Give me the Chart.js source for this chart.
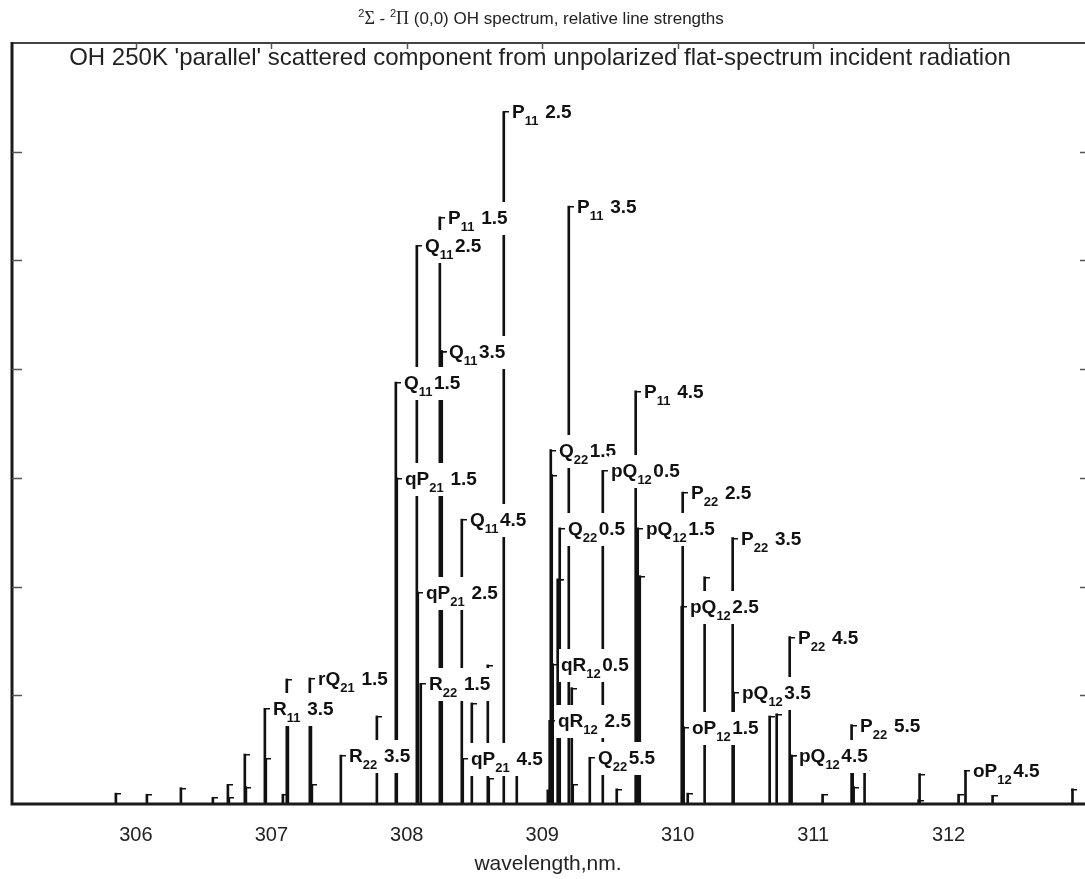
<!DOCTYPE html>
<html>
<head>
<meta charset="utf-8">
<script src="https://cdn.jsdelivr.net/npm/chart.js@4.4.1/dist/chart.umd.min.js"></script>
<style>
  html, body { margin: 0; padding: 0; background: #fff; }
</style>
</head>
<body>
<canvas id="spec" width="1085" height="879"></canvas>
<script>
// stick spectrum: position (nm), relative strength (tick units), label
const wavelengths = [
  305.852, 306.081, 306.332, 306.568, 306.679, 306.686, 306.804, 306.812, 306.952, 306.959,
  307.085, 307.114, 307.122, 307.284, 307.292, 307.299, 307.513, 307.779, 307.919, 307.926,
  308.074, 308.081, 308.103, 308.244, 308.251, 308.258, 308.406, 308.413, 308.480, 308.598,
  308.605, 308.716, 308.812, 309.041, 309.055, 309.063, 309.070, 309.077, 309.114, 309.122,
  309.129, 309.196, 309.218, 309.225, 309.351, 309.447, 309.550, 309.690, 309.705, 309.720,
  310.030, 310.037, 310.044, 310.074, 310.199, 310.406, 310.413, 310.679, 310.731, 310.827,
  310.834, 310.841, 311.070, 311.284, 311.292, 311.299, 311.380, 311.779, 311.786, 312.074,
  312.125, 312.325, 312.915
];
const strengths = [
  0.10, 0.09, 0.15, 0.06, 0.18, 0.06, 0.46, 0.16, 0.88, 0.42,
  0.09, 1.15, 0.96, 1.16, 0.91, 0.18, 0.45, 0.81, 3.88, 3.00,
  5.14, 1.95, 1.11, 5.40, 4.17, 4.17, 2.62, 0.42, 0.93, 1.28,
  0.24, 6.37, 0.29, 0.13, 0.77, 3.26, 3.03, 1.29, 2.07, 2.07,
  2.54, 5.50, 1.07, 0.18, 0.43, 3.07, 0.14, 3.80, 2.54, 2.10,
  1.82, 2.87, 0.71, 0.10, 2.09, 2.45, 1.03, 0.81, 0.83, 1.54,
  0.45, 0.45, 0.09, 0.73, 0.31, 0.16, 0.31, 0.04, 0.28, 0.09,
  0.31, 0.08, 0.14
];
const lineLabels = [
  '', '', '', '', '', '', '', '', 'R_{11} 3.5', '',
  '', '', '', 'rQ_{21} 1.5', '', '', 'R_{22} 3.5', '', 'Q_{11}1.5', 'qP_{21} 1.5',
  'Q_{11}2.5', 'qP_{21} 2.5', 'R_{22} 1.5', 'P_{11} 1.5', 'Q_{11}3.5', '', 'Q_{11}4.5', 'qP_{21} 4.5', '', '',
  '', 'P_{11} 2.5', '', '', 'qR_{12} 2.5', 'Q_{22}1.5', '', 'qR_{12}0.5', '', '',
  'Q_{22}0.5', 'P_{11} 3.5', '', '', 'Q_{22}5.5', 'pQ_{12}0.5', '', 'P_{11} 4.5', 'pQ_{12}1.5', '',
  'pQ_{12}2.5', 'P_{22} 2.5', 'oP_{12}1.5', '', '', 'P_{22} 3.5', 'pQ_{12}3.5', '', '', 'P_{22} 4.5',
  'pQ_{12}4.5', '', '', 'P_{22} 5.5', '', '', '', '', '', '',
  'oP_{12}4.5', '', ''
];
const xTicks = [306, 307, 308, 309, 310, 311, 312];
const yTicks = [1, 2, 3, 4, 5, 6];

const FONT = '"Liberation Sans", Arial, Helvetica, sans-serif';

function drawRuns(ctx, runs, cx, cy) {
  // runs: [text, font, dy]; centred as one line
  let total = 0;
  runs.forEach(r => { ctx.font = r[1]; total += ctx.measureText(r[0]).width; });
  let xx = cx - total / 2;
  runs.forEach(r => {
    ctx.font = r[1];
    ctx.fillText(r[0], xx, cy + r[2]);
    xx += ctx.measureText(r[0]).width;
  });
}

const spectrumDecor = {
  id: 'spectrumDecor',
  beforeDraw(chart) {
    const ctx = chart.ctx;
    ctx.save();
    ctx.fillStyle = '#fff';
    ctx.fillRect(0, 0, chart.width, chart.height);
    ctx.restore();
  },
  afterDatasetsDraw(chart) {
    const { ctx, chartArea: a, scales: { x, y } } = chart;
    ctx.save();

    // little caps at the top of each stick
    ctx.strokeStyle = '#111';
    ctx.lineWidth = 1.5;
    wavelengths.forEach((w, i) => {
      const px = Math.round(x.getPixelForValue(w));
      const py = Math.round(y.getPixelForValue(strengths[i]));
      ctx.beginPath();
      ctx.moveTo(px - 1, py + 0.75);
      ctx.lineTo(px + 5, py + 0.75);
      ctx.stroke();
    });

    // line labels with white boxes, drawn in order so later ones cover earlier ones
    ctx.textBaseline = 'alphabetic';
    const fMain = 'bold 19px ' + FONT, fSub = 'bold 13px ' + FONT;
    wavelengths.forEach((w, i) => {
      const lab = lineLabels[i];
      if (!lab) return;
      const m = lab.match(/^(.*?)_\{(\d+)\}(.*)$/);
      const px = Math.round(x.getPixelForValue(w));
      const py = Math.round(y.getPixelForValue(strengths[i]));
      ctx.font = fMain; const w1 = ctx.measureText(m[1]).width;
      ctx.font = fSub; const w2 = ctx.measureText(m[2]).width + 1.5;
      ctx.font = fMain; const w3 = ctx.measureText(m[3]).width;
      const tx = px + 8;
      ctx.fillStyle = '#fff';
      ctx.fillRect(tx - 2, py - 15, w1 + w2 + w3 + 4, 33);
      ctx.fillStyle = '#111';
      ctx.font = fMain; ctx.fillText(m[1], tx, py + 7);
      ctx.font = fSub; ctx.fillText(m[2], tx + w1, py + 14);
      ctx.font = fMain; ctx.fillText(m[3], tx + w1 + w2, py + 7);
    });

    // frame
    ctx.strokeStyle = '#444';
    ctx.lineWidth = 2;
    ctx.beginPath();
    ctx.moveTo(a.left, a.top); ctx.lineTo(chart.width, a.top);
    ctx.stroke();
    ctx.strokeStyle = '#1a1a1a';
    ctx.lineWidth = 3;
    ctx.beginPath();
    ctx.moveTo(a.left, a.top - 1); ctx.lineTo(a.left, a.bottom);
    ctx.lineTo(chart.width, a.bottom);
    ctx.stroke();

    // inward ticks
    ctx.strokeStyle = '#555';
    ctx.lineWidth = 1.5;
    yTicks.forEach(v => {
      const py = Math.round(y.getPixelForValue(v)) + 0.5;
      ctx.beginPath(); ctx.moveTo(a.left, py); ctx.lineTo(a.left + 10, py); ctx.stroke();
      ctx.beginPath(); ctx.moveTo(a.right - 4, py); ctx.lineTo(a.right + 1, py); ctx.stroke();
    });
    xTicks.forEach(v => {
      const px = Math.round(x.getPixelForValue(v)) + 0.5;
      ctx.beginPath(); ctx.moveTo(px, a.top); ctx.lineTo(px, a.top + 6); ctx.stroke();
    });

    // tick labels and axis title
    ctx.fillStyle = '#222';
    ctx.textAlign = 'center';
    ctx.textBaseline = 'middle';
    ctx.font = '20px ' + FONT;
    xTicks.forEach(v => ctx.fillText(String(v), x.getPixelForValue(v), a.bottom + 31));
    ctx.font = '21px ' + FONT;
    ctx.fillText('wavelength,nm.', (a.left + a.right) / 2, a.bottom + 60);

    // subtitle inside the box
    ctx.font = '24px ' + FONT;
    ctx.fillText("OH 250K 'parallel' scattered component from unpolarized flat-spectrum incident radiation", 540, 58);

    // title with superscripts and greek letters
    ctx.textAlign = 'left';
    ctx.textBaseline = 'alphabetic';
    const fA = '17px ' + FONT, fS = '11px ' + FONT, fG = '18px "Liberation Serif", "Times New Roman", serif';
    drawRuns(ctx, [
      ['2', fS, -7], ['\u03A3', fG, 0], [' - ', fA, 0], ['2', fS, -7], ['\u03A0', fG, 0],
      [' (0,0) OH spectrum, relative line strengths', fA, 0]
    ], 541, 24);

    ctx.restore();
  }
};

new Chart(document.getElementById('spec'), {
  type: 'bar',
  data: {
    datasets: [{
      data: wavelengths.map((w, i) => ({ x: w, y: strengths[i] })),
      backgroundColor: '#111',
      borderWidth: 0,
      barThickness: 2
    }]
  },
  options: {
    responsive: false,
    animation: false,
    layout: { padding: { left: 12, right: 1, top: 43, bottom: 75 } },
    plugins: { legend: { display: false }, tooltip: { enabled: false } },
    scales: {
      x: { type: 'linear', min: 305.085, max: 313.0, offset: false, display: false },
      y: { min: 0, max: 7, display: false }
    }
  },
  plugins: [spectrumDecor]
});
</script>
</body>
</html>
